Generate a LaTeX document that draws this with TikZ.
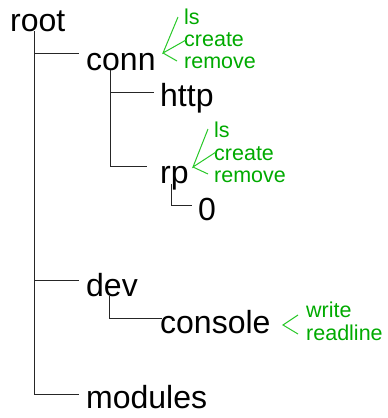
\documentclass[tikz,border=0pt]{standalone}
\usepackage{fontspec}
\setmainfont{Liberation Sans}
\definecolor{gtext}{RGB}{0,170,0}
\definecolor{gline}{RGB}{40,200,40}
\begin{document}
\begin{tikzpicture}[x=1pt,y=-1pt,
  lbl/.style={anchor=base west, inner sep=0pt, font=\fontsize{32}{32}\selectfont},
  ann/.style={anchor=base west, inner sep=0pt, font=\fontsize{21.5}{21}\selectfont, text=gtext},
  treeline/.style={line width=1pt, black!85},
  annline/.style={line width=1pt, gline}]
\useasboundingbox (0,0) rectangle (388,418);

% tree labels
\node[lbl] (root) at (10,31) {root};
\node[lbl] (conn) at (86,70) {conn};
\node[lbl] (http) at (160,106) {http};
\node[lbl] (rp) at (160,183) {rp};
\node[lbl] (zero) at (198,220) {0};
\node[lbl] (dev) at (86,296) {dev};
\node[lbl] (console) at (160,333) {console};
\node[lbl] (modules) at (86,408) {modules};

% junction coordinates
\coordinate (rtop) at (34,31);
\coordinate (rconn) at (79,53);
\coordinate (rdev) at (79,280);
\coordinate (rmod) at (79,394);
\coordinate (ctop) at (110,70);
\coordinate (chttp) at (154,92);
\coordinate (crp) at (147,166);
\coordinate (ptop) at (171,184);
\coordinate (pzero) at (192,205);
\coordinate (dtop) at (109,296);
\coordinate (dcons) at (162,318);

\draw[treeline] (rtop) |- (rmod);
\draw[treeline] (rtop |- rconn) -- (rconn);
\draw[treeline] (rtop |- rdev) -- (rdev);
\draw[treeline] (ctop) |- (crp);
\draw[treeline] (ctop |- chttp) -- (chttp);
\draw[treeline] (ptop) |- (pzero);
\draw[treeline] (dtop) |- (dcons);

% annotations for conn
\node[ann] (cls) at (184,24) {ls};
\node[ann] (ccreate) at (184,46) {create};
\node[ann] (cremove) at (184,68) {remove};
\coordinate (ctip) at (163,53);
\draw[annline] (178,17) -- (ctip) -- (186,40);
\draw[annline] (ctip) -- (177,61);

% annotations for rp
\node[ann] (pls) at (214,137) {ls};
\node[ann] (pcreate) at (214,160) {create};
\node[ann] (premove) at (214,182) {remove};
\coordinate (ptip) at (193,167);
\draw[annline] (208,129) -- (ptip) -- (216,152);
\draw[annline] (ptip) -- (208,174);

% annotations for console
\node[ann] (cwrite) at (306,317) {write};
\node[ann] (creadline) at (306,340) {readline};
\coordinate (otip) at (283,325);
\draw[annline] (298,315) -- (otip) -- (298,334);
\end{tikzpicture}
\end{document}
